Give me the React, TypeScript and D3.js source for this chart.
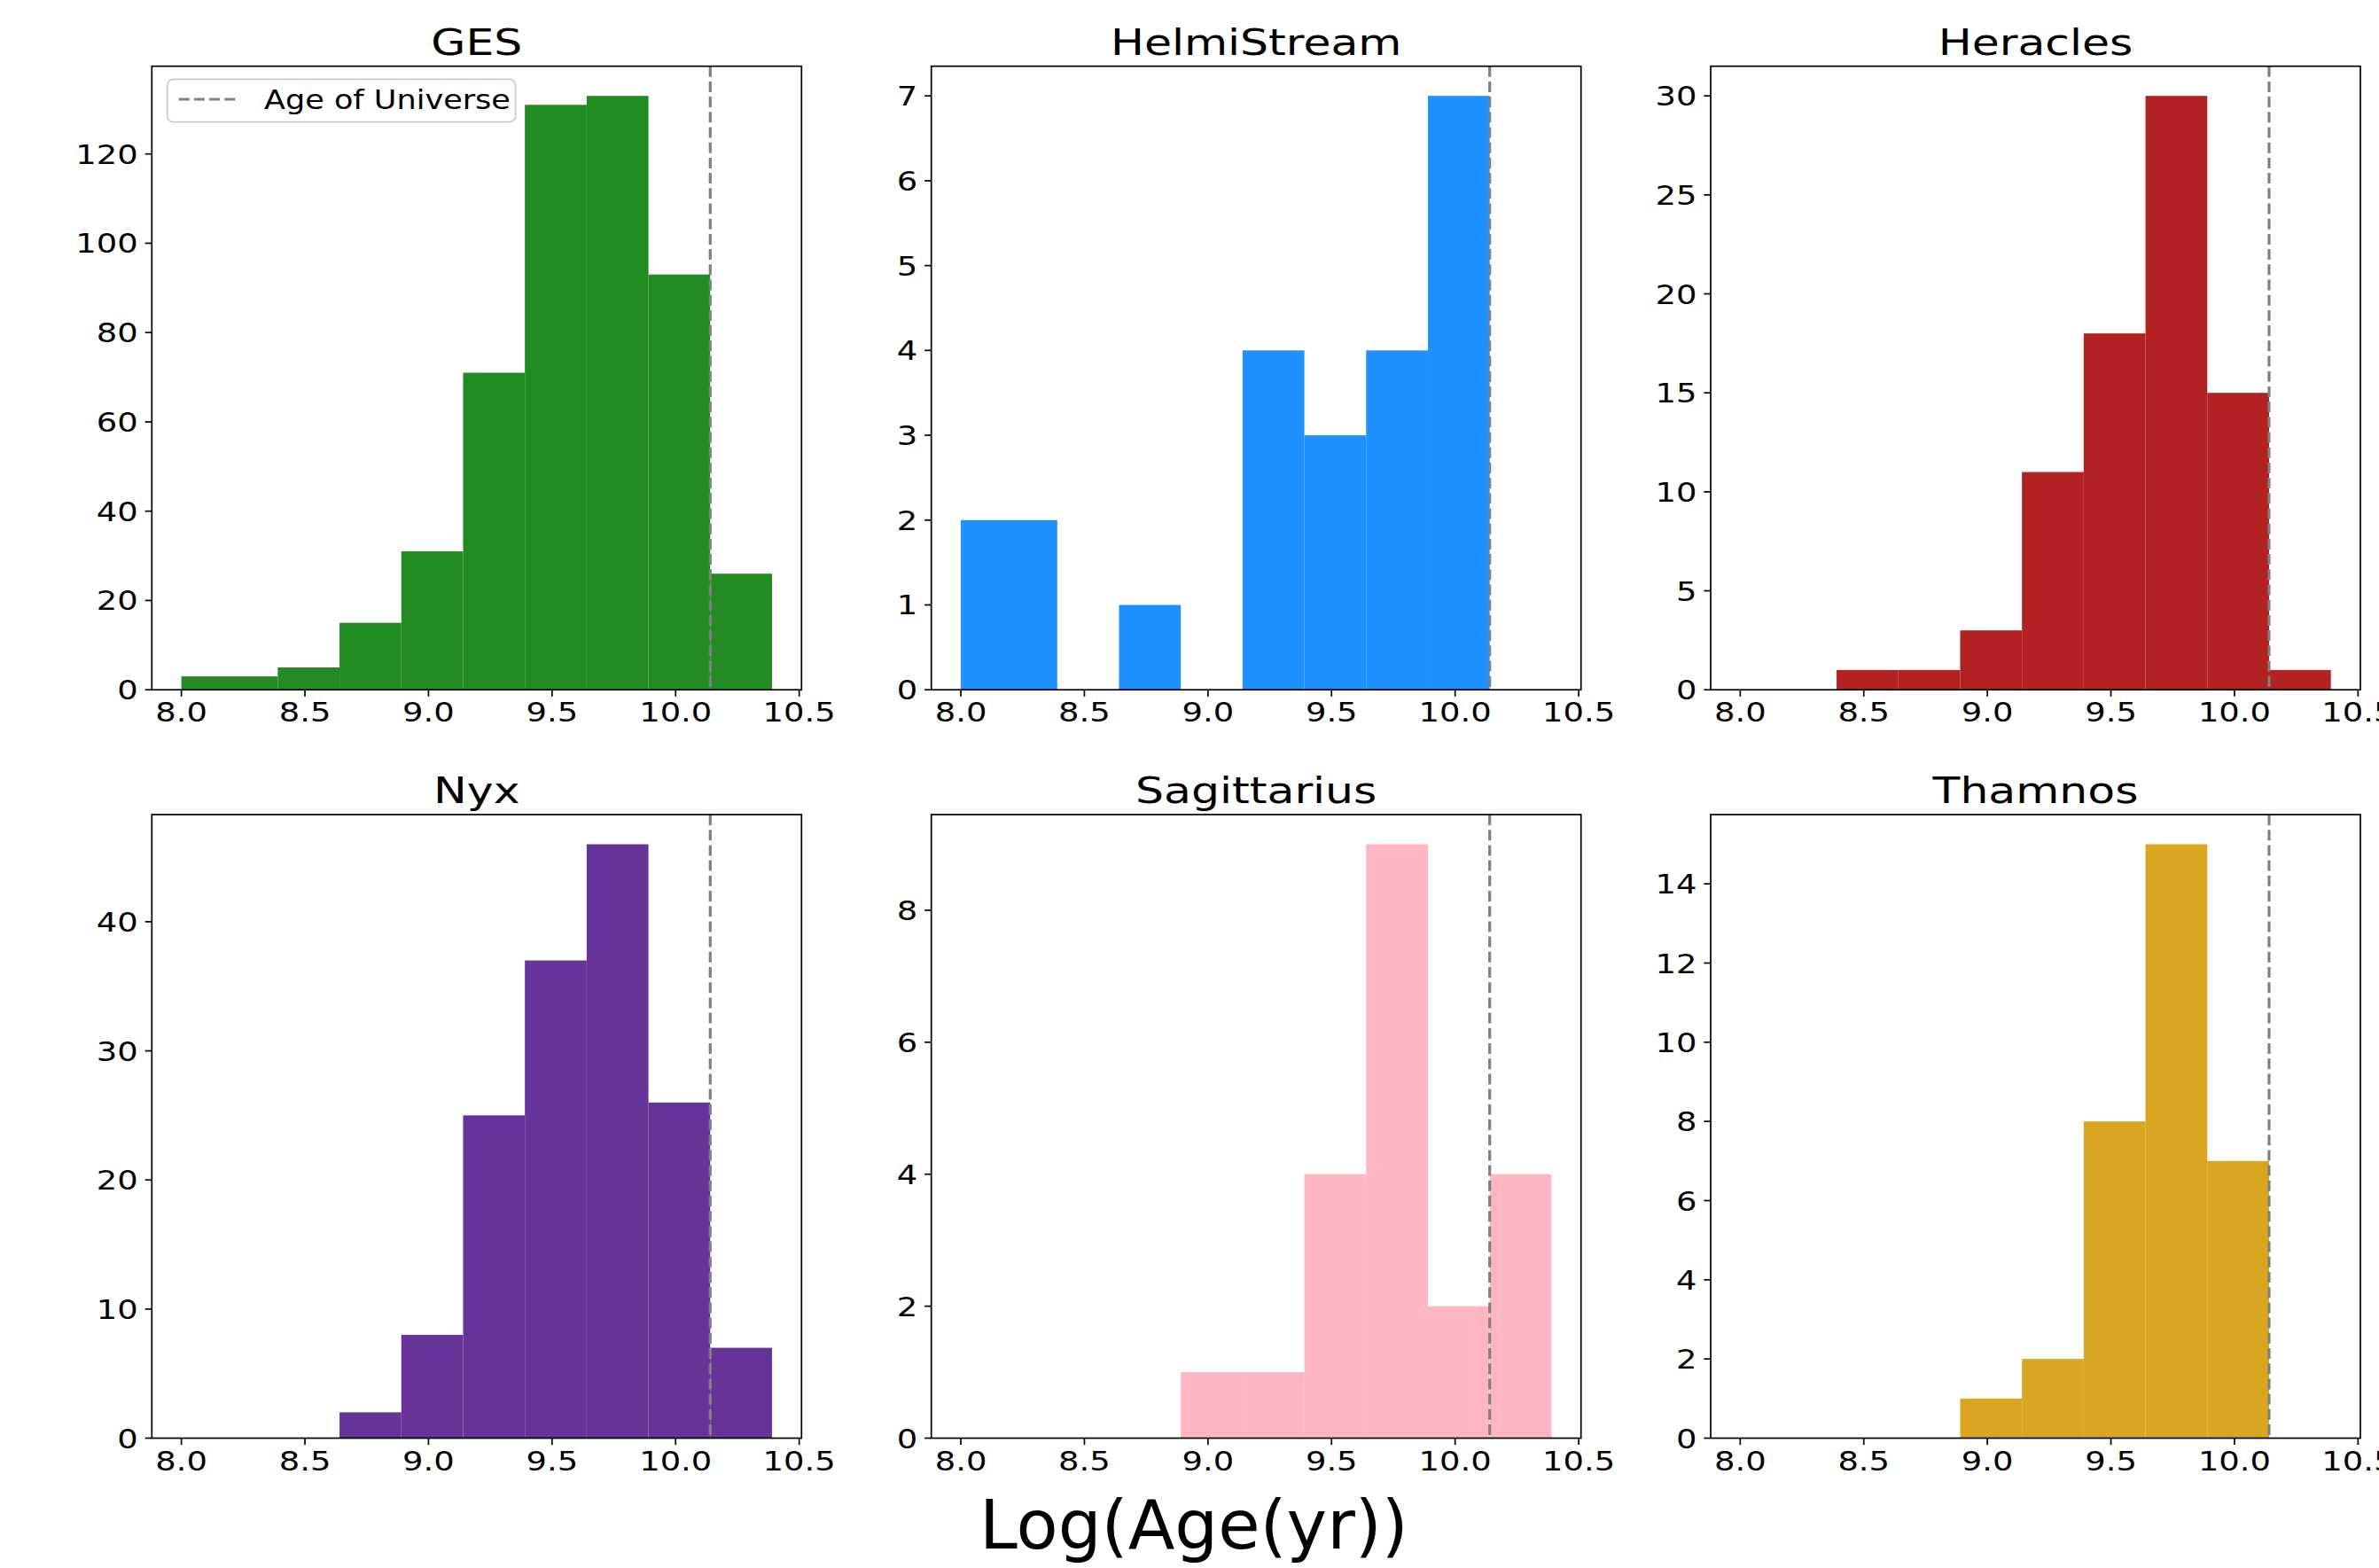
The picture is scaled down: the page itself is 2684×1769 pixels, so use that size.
import React from 'react';
import * as d3 from 'd3';

// histogram bin edges, log10(age / yr)
const binEdges = [8.0, 8.39, 8.64, 8.89, 9.14, 9.39, 9.64, 9.89, 10.14, 10.39];

const panelNames = ['GES', 'HelmiStream', 'Heracles', 'Nyx', 'Sagittarius', 'Thamnos'];
const panelColors = ['#228B22', '#1E90FF', '#B22222', '#663399', '#FFB6C1', '#DAA520'];

const gesCounts = [3, 5, 15, 31, 71, 131, 133, 93, 26];
const helmiCounts = [2, 0, 1, 0, 4, 3, 4, 7, 0];
const heraclesCounts = [0, 1, 1, 3, 11, 18, 30, 15, 1];
const nyxCounts = [0, 0, 2, 8, 25, 37, 46, 26, 7];
const sagCounts = [0, 0, 0, 1, 1, 4, 9, 2, 4];
const thamnosCounts = [0, 0, 0, 1, 2, 8, 15, 7, 0];
const panelCounts = [gesCounts, helmiCounts, heraclesCounts, nyxCounts, sagCounts, thamnosCounts];

const xTicks = [8.0, 8.5, 9.0, 9.5, 10.0, 10.5];
const gesYTicks = [0, 20, 40, 60, 80, 100, 120];
const helmiYTicks = [0, 1, 2, 3, 4, 5, 6, 7];
const heraclesYTicks = [0, 5, 10, 15, 20, 25, 30];
const nyxYTicks = [0, 10, 20, 30, 40];
const sagYTicks = [0, 2, 4, 6, 8];
const thamnosYTicks = [0, 2, 4, 6, 8, 10, 12, 14];
const panelYTicks = [gesYTicks, helmiYTicks, heraclesYTicks, nyxYTicks, sagYTicks, thamnosYTicks];

const ageOfUniverse = 10.14;
const legendLabel = 'Age of Universe';
const xLabel = 'Log(Age(yr))';

const W = 2684;
const H = 1769;
const colLeft = [171.3, 1050.7, 1930];
const rowTop = [74.7, 919];
const axW = 733;
const axH = 703.5;

const FONT = '"DejaVu Sans", sans-serif';
const TICK_FS = 30;
const TITLE_FS = 41;
const STRETCH = 1.23;
const TICK_LEN = 7.6;
const LW = 1.7;

const Panel = ({ idx }: { idx: number }) => {
    const left = colLeft[idx % 3];
    const top = rowTop[Math.floor(idx / 3)];
    const counts = panelCounts[idx];

    const xMin = d3.min(binEdges) as number;
    const xMax = d3.max(binEdges) as number;
    const pad = (xMax - xMin) * 0.05;
    const x = d3.scaleLinear().domain([xMin - pad, xMax + pad]).range([left, left + axW]);
    const yMax = (d3.max(counts) as number) * 1.05;
    const y = d3.scaleLinear().domain([0, yMax]).range([top + axH, top]);
    const bottom = top + axH;

    return (
        <g>
            {counts.map((c, i) => c > 0 ? (
                <rect key={i}
                    x={x(binEdges[i])}
                    width={x(binEdges[i + 1]) - x(binEdges[i])}
                    y={y(c)}
                    height={bottom - y(c)}
                    fill={panelColors[idx]} />
            ) : null)}
            <line x1={x(ageOfUniverse)} x2={x(ageOfUniverse)} y1={top} y2={bottom}
                stroke="#808080" strokeWidth={3.2} strokeDasharray="12 5.2" />
            <rect x={left} y={top} width={axW} height={axH} fill="none" stroke="#000" strokeWidth={LW} />
            {xTicks.map(t => (
                <g key={t}>
                    <line x1={x(t)} x2={x(t)} y1={bottom} y2={bottom + TICK_LEN} stroke="#000" strokeWidth={LW} />
                    <text transform={`translate(${x(t)},${bottom + TICK_LEN + 28.5}) scale(${STRETCH},1)`}
                        textAnchor="middle" fontSize={TICK_FS} fontFamily={FONT}>{d3.format('.1f')(t)}</text>
                </g>
            ))}
            {panelYTicks[idx].map(t => (
                <g key={t}>
                    <line x1={left - TICK_LEN} x2={left} y1={y(t)} y2={y(t)} stroke="#000" strokeWidth={LW} />
                    <text transform={`translate(${left - TICK_LEN - 8},${y(t) + 11}) scale(${STRETCH},1)`}
                        textAnchor="end" fontSize={TICK_FS} fontFamily={FONT}>{t}</text>
                </g>
            ))}
            <text transform={`translate(${left + axW / 2},${top - 13}) scale(${STRETCH},1)`}
                textAnchor="middle" fontSize={TITLE_FS} fontFamily={FONT}>{panelNames[idx]}</text>
            {idx === 0 && (
                <g>
                    <rect x={188.7} y={89.3} width={393} height={48.4} rx={7} ry={7}
                        fill="#fff" fillOpacity={0.8} stroke="#cccccc" strokeWidth={1.7} />
                    <line x1={201.7} x2={270.7} y1={112} y2={112}
                        stroke="#808080" strokeWidth={3.2} strokeDasharray="12 5.2" />
                    <text transform={`translate(298,123) scale(${STRETCH * 0.95},1)`}
                        fontSize={TICK_FS} fontFamily={FONT}>{legendLabel}</text>
                </g>
            )}
        </g>
    );
};

const App = () => {
    return (
        <svg width={W} height={H} viewBox={`0 0 ${W} ${H}`}
            style={{ position: 'absolute', left: 0, top: 0, background: '#fff' }}>
            <rect width={W} height={H} fill="#fff" />
            {panelNames.map((n, i) => <Panel key={n} idx={i} />)}
            <text x={1347} y={1747} textAnchor="middle" fontSize={77} fontFamily={FONT}>{xLabel}</text>
        </svg>
    );
};

export default App;
